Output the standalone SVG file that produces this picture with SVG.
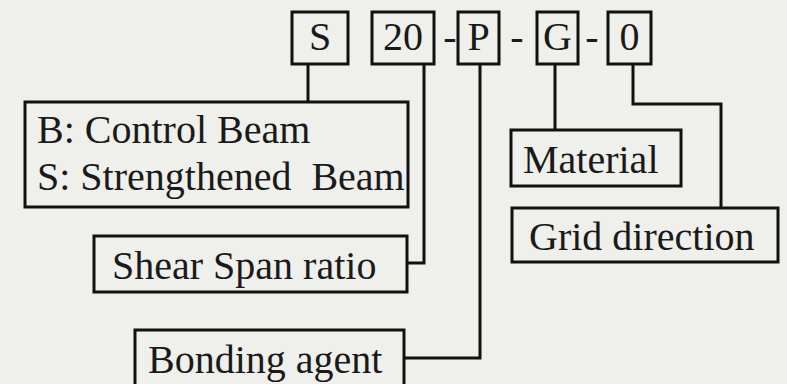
<svg xmlns="http://www.w3.org/2000/svg" width="787" height="384" viewBox="0 0 787 384">
<style>
.box{fill:none;stroke:#111;stroke-width:3}
.ln{fill:none;stroke:#111;stroke-width:3}
text{font-family:"Liberation Serif","Times New Roman",serif;font-size:40px;fill:#1a1a1a}
.c{text-anchor:middle}
</style>
<rect width="787" height="384" fill="#efefeb"/>
<g id="code">
<g id="box-S"><rect class="box" x="292" y="12" width="56" height="52"/><text class="c" x="320" y="50">S</text></g>
<g id="box-20"><rect class="box" x="372" y="12" width="62" height="52"/><text class="c" x="403" y="50">20</text></g>
<text class="c" x="450" y="50">-</text>
<g id="box-P"><rect class="box" x="458" y="12" width="41" height="52"/><text class="c" x="478.5" y="50">P</text></g>
<text class="c" x="517" y="50">-</text>
<g id="box-G"><rect class="box" x="537" y="12" width="41" height="52"/><text class="c" x="557.5" y="50">G</text></g>
<text class="c" x="592" y="50">-</text>
<g id="box-0"><rect class="box" x="608" y="12" width="43" height="52"/><text class="c" x="629.5" y="50">0</text></g>
</g>
<g id="beam-type"><rect class="box" x="25" y="102" width="383" height="105"/>
<text x="37" y="143">B: Control Beam</text>
<text x="37" y="190" xml:space="preserve">S: Strengthened  Beam</text></g>
<g id="shear-span"><rect class="box" x="94" y="236" width="313" height="56"/><text x="112" y="279">Shear Span ratio</text></g>
<g id="bonding"><rect class="box" x="135" y="330" width="269" height="60"/><text x="148" y="373">Bonding agent</text></g>
<g id="material"><rect class="box" x="511" y="130" width="170" height="56"/><text x="523" y="173">Material</text></g>
<g id="grid"><rect class="box" x="512" y="208" width="266" height="54"/><text x="529" y="250">Grid direction</text></g>
<g id="connectors">
<path class="ln" d="M308 64V102"/>
<path class="ln" d="M424 64V263H407"/>
<path class="ln" d="M480 64V358H404"/>
<path class="ln" d="M555 64V130"/>
<path class="ln" d="M633 64V104H721V208"/>
</g>
</svg>
